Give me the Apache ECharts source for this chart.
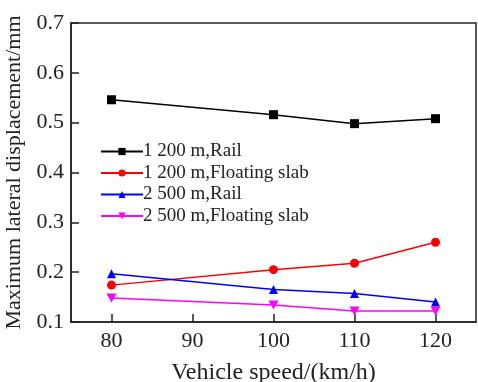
<!DOCTYPE html>
<html>
<head>
<meta charset="utf-8">
<script src="https://cdn.jsdelivr.net/npm/echarts@6/dist/echarts.min.js"></script>
<style>
  html, body { margin: 0; padding: 0; background: #fff; }
  #chart { width: 478px; height: 382px; }
</style>
</head>
<body>
<div id="chart"></div>
<script>
// Vehicle speeds (km/h)
const speeds = [80, 100, 110, 120];
const xTicks = [80, 90, 100, 110, 120];

// Maximum lateral displacement (mm) per case
const r1200Rail = [0.546, 0.516, 0.498, 0.508];
const r1200Slab = [0.174, 0.205, 0.218, 0.260];
const r2500Rail = [0.197, 0.165, 0.157, 0.140];
const r2500Slab = [0.148, 0.134, 0.122, 0.122];

const seriesNames = ['1 200 m,Rail', '1 200 m,Floating slab', '2 500 m,Rail', '2 500 m,Floating slab'];
const seriesColors = ['#000000', '#ff0000', '#0000ff', '#ff00ff'];
const seriesSymbols = ['rect', 'circle', 'triangle', 'path://M0,0L10,0L5,9Z'];
const seriesData = [r1200Rail, r1200Slab, r2500Rail, r2500Slab];

const font = '"Liberation Serif", "DejaVu Serif", serif';
const ink = '#222';

const chart = echarts.init(document.getElementById('chart'), null, { renderer: 'canvas' });

chart.setOption({
  animation: false,
  backgroundColor: '#ffffff',
  textStyle: { fontFamily: font },
  grid: {
    left: 71, right: 2, top: 23, bottom: 60,
    outerBoundsMode: 'none',
    containLabel: false,
    show: true, borderColor: ink, borderWidth: 1.5, backgroundColor: 'transparent'
  },
  legend: {
    orient: 'vertical',
    left: 100,
    top: 142,
    padding: 0,
    itemWidth: 42,
    itemHeight: 9,
    itemGap: 2.5,
    textStyle: { fontFamily: font, fontSize: 19, color: ink, padding: [0, 0, 0, -5] },
    data: seriesNames
  },
  xAxis: {
    type: 'value',
    min: 75,
    max: 125,
    name: 'Vehicle speed/(km/h)',
    nameLocation: 'middle',
    nameGap: 39,
    nameTextStyle: { fontFamily: font, fontSize: 24, color: ink },
    axisLine: { show: true, lineStyle: { color: ink, width: 1.5 } },
    axisTick: { show: true, inside: true, length: 8, lineStyle: { color: ink, width: 1.5 }, customValues: xTicks },
    axisLabel: { fontFamily: font, fontSize: 22, color: ink, margin: 8, customValues: xTicks },
    splitLine: { show: false }
  },
  yAxis: {
    type: 'value',
    min: 0.1,
    max: 0.7,
    interval: 0.1,
    name: 'Maximum lateral displacement/mm',
    nameLocation: 'middle',
    nameGap: 42,
    nameTextStyle: { fontFamily: font, fontSize: 22, color: ink },
    axisLine: { show: true, lineStyle: { color: ink, width: 1.5 } },
    axisTick: { show: true, inside: true, length: 8, lineStyle: { color: ink, width: 1.5 } },
    axisLabel: { fontFamily: font, fontSize: 22, color: ink, margin: 7, formatter: v => v.toFixed(1) },
    splitLine: { show: false }
  },
  series: seriesNames.map((name, i) => ({
    name: name,
    type: 'line',
    data: speeds.map((s, j) => [s, seriesData[i][j]]),
    symbol: seriesSymbols[i],
    symbolSize: i === 3 ? [10, 9] : 9,
    showAllSymbol: true,
    lineStyle: { color: seriesColors[i], width: 1.5 },
    itemStyle: { color: seriesColors[i] },
    color: seriesColors[i]
  }))
});
</script>
</body>
</html>
